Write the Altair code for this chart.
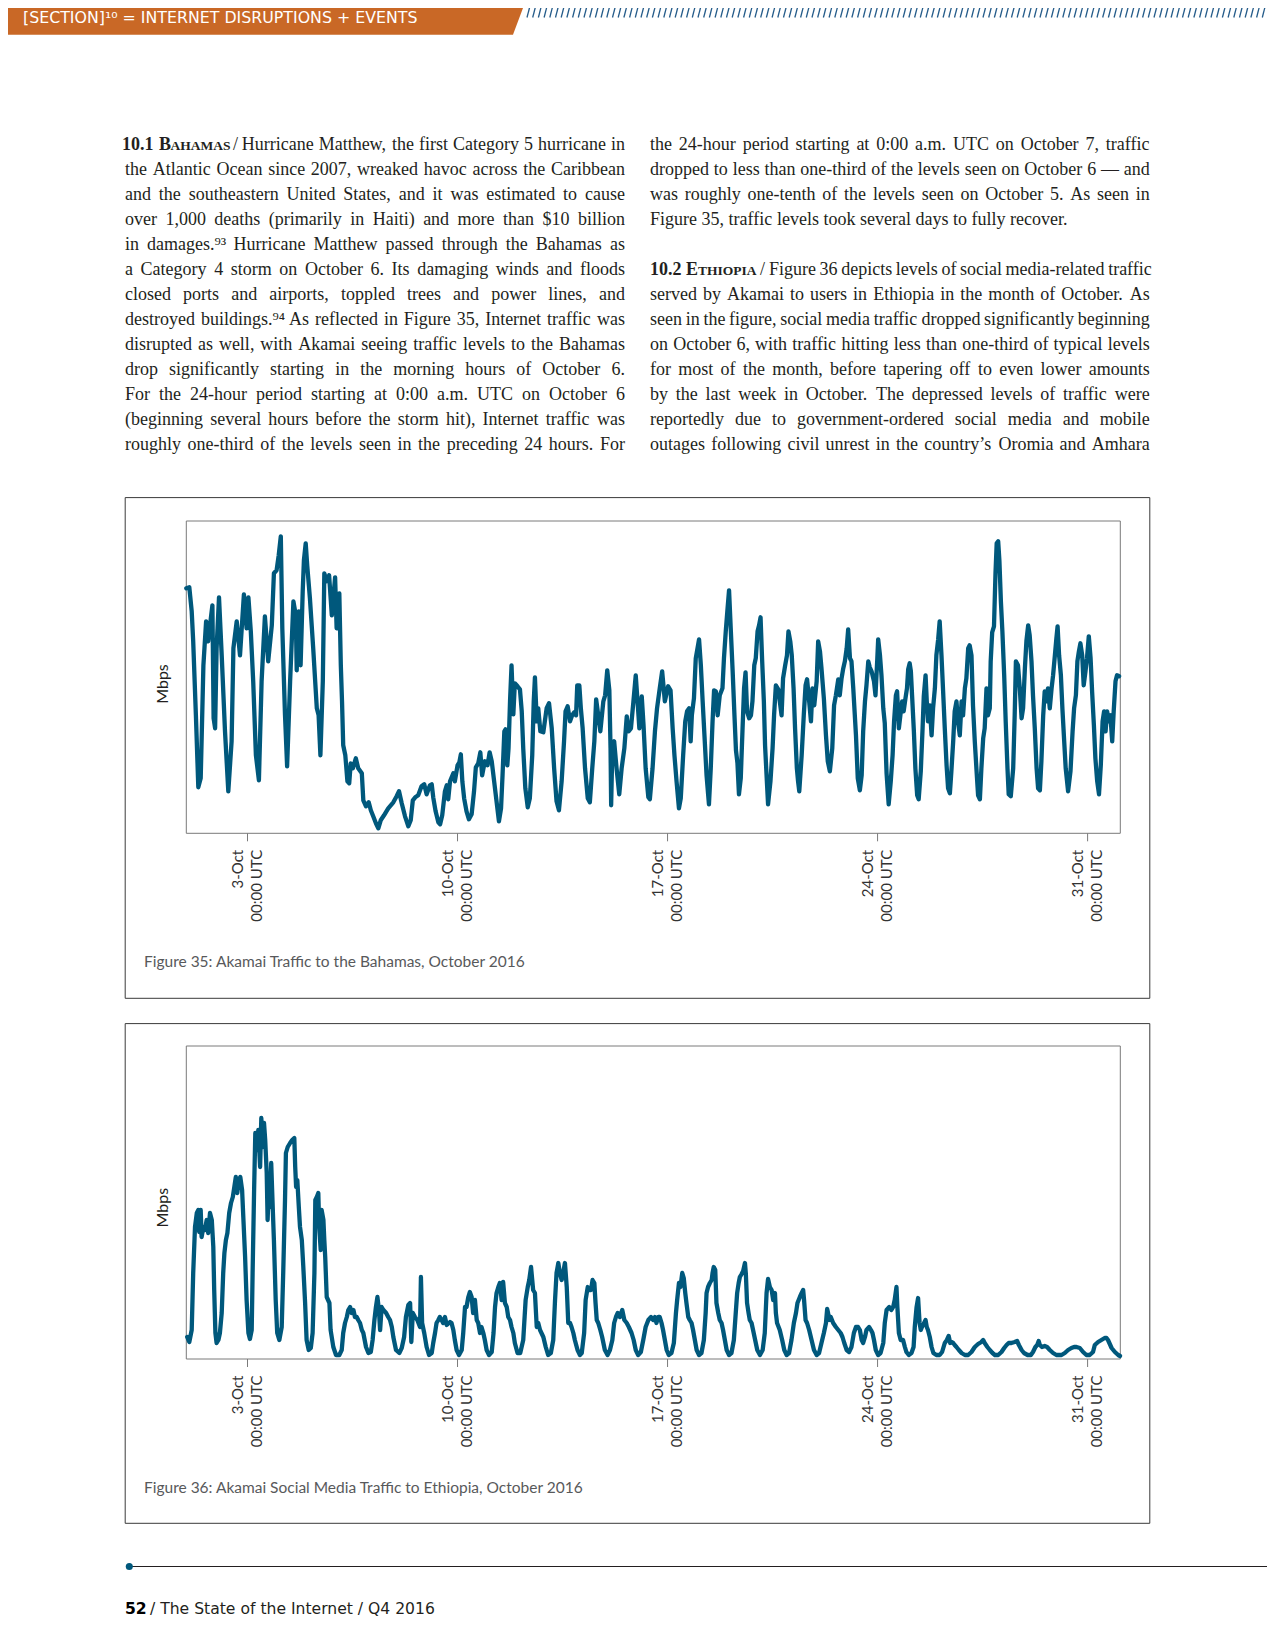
import altair as alt
import pandas as pd

# ---------------- data ----------------
# day of October (fractional), traffic in Mbps (relative units)
bahamas = [
    (0.96,245),(1.06,246),(1.14,222),(1.19,192),(1.28,118),(1.36,46),(1.44,55),(1.53,168),(1.62,212),(1.69,192),
    (1.75,208),(1.83,228),(1.87,115),(1.92,105),(1.97,185),(2.05,236),(2.14,178),(2.25,102),(2.36,42),(2.47,92),
    (2.53,185),(2.64,212),(2.75,178),(2.88,239),(2.97,205),(3.03,236),(3.11,202),(3.19,152),(3.28,78),(3.38,53),
    (3.47,152),(3.58,217),(3.69,172),(3.81,208),(3.88,260),(3.97,263),(4.04,278),(4.11,297),(4.16,205),(4.25,118),
    (4.32,67),(4.42,152),(4.53,232),(4.61,218),(4.64,163),(4.71,222),(4.77,168),(4.84,242),(4.88,273),(4.94,290),
    (4.99,268),(5.08,235),(5.19,185),(5.31,125),(5.37,118),(5.43,78),(5.51,152),(5.56,260),(5.64,252),(5.72,258),
    (5.81,218),(5.92,256),(5.97,205),(6.06,240),(6.11,168),(6.15,132),(6.19,88),(6.26,78),(6.33,52),(6.39,50),
    (6.44,70),(6.51,65),(6.61,75),(6.69,65),(6.81,60),(6.86,33),(6.95,27),(7.04,31),(7.11,23),(7.19,17),
    (7.28,10),(7.36,5),(7.44,13),(7.55,18),(7.69,25),(7.86,31),(7.97,37),(8.05,42),(8.14,30),(8.25,17),
    (8.36,7),(8.44,13),(8.51,33),(8.59,36),(8.69,38),(8.80,47),(8.89,49),(8.97,39),(9.08,48),(9.14,49),
    (9.19,36),(9.27,22),(9.36,11),(9.42,9),(9.49,18),(9.58,42),(9.64,48),(9.69,34),(9.75,52),(9.86,60),
    (9.91,52),(10.00,68),(10.06,71),(10.11,79),(10.16,52),(10.22,35),(10.30,22),(10.38,14),(10.47,19),(10.55,42),
    (10.61,66),(10.69,70),(10.76,81),(10.82,58),(10.91,72),(11.00,68),(11.07,81),(11.14,72),(11.22,52),(11.30,32),
    (11.38,12),(11.45,25),(11.50,58),(11.56,102),(11.60,104),(11.66,68),(11.70,85),(11.75,132),(11.80,168),(11.86,119),
    (11.91,150),(12.00,147),(12.08,144),(12.14,122),(12.19,85),(12.26,45),(12.34,26),(12.41,35),(12.49,78),(12.54,132),
    (12.58,156),(12.64,112),(12.69,125),(12.76,102),(12.86,101),(12.97,125),(13.05,130),(13.14,105),(13.22,65),(13.30,32),
    (13.38,23),(13.47,52),(13.55,92),(13.60,122),(13.67,127),(13.75,112),(13.82,118),(13.89,121),(13.95,118),(13.99,148),
    (14.06,148),(14.11,125),(14.17,105),(14.25,65),(14.34,35),(14.41,31),(14.49,65),(14.56,92),(14.62,134),(14.69,118),
    (14.76,102),(14.86,132),(14.92,138),(14.99,163),(15.06,143),(15.10,85),(15.12,28),(15.16,85),(15.22,92),(15.30,65),
    (15.39,39),(15.47,65),(15.56,85),(15.64,117),(15.70,102),(15.78,105),(15.86,131),(15.94,158),(16.00,132),(16.06,105),
    (16.14,137),(16.20,108),(16.27,65),(16.36,36),(16.41,34),(16.50,65),(16.58,102),(16.65,125),(16.74,145),(16.82,162),
    (16.91,132),(17.02,147),(17.10,143),(17.17,105),(17.23,78),(17.30,52),(17.38,25),(17.44,35),(17.52,78),(17.59,112),
    (17.65,122),(17.72,125),(17.77,92),(17.81,118),(17.88,135),(17.94,175),(18.05,194),(18.11,168),(18.17,132),(18.23,98),
    (18.30,58),(18.38,29),(18.44,65),(18.50,112),(18.55,143),(18.61,142),(18.67,118),(18.74,138),(18.83,145),(18.88,175),
    (18.94,202),(19.00,225),(19.05,243),(19.11,202),(19.17,162),(19.23,118),(19.28,83),(19.33,70),(19.38,39),(19.44,55),
    (19.50,105),(19.55,145),(19.60,161),(19.65,122),(19.72,115),(19.78,118),(19.83,132),(19.89,168),(19.94,175),(20.00,202),
    (20.05,208),(20.10,216),(20.15,175),(20.21,132),(20.25,88),(20.30,58),(20.35,29),(20.43,52),(20.50,85),(20.55,118),
    (20.61,148),(20.69,144),(20.74,132),(20.80,118),(20.85,155),(20.92,168),(20.98,178),(21.03,202),(21.09,192),(21.14,178),
    (21.20,145),(21.25,105),(21.31,65),(21.35,52),(21.39,42),(21.47,78),(21.54,118),(21.60,148),(21.65,154),(21.72,132),
    (21.78,112),(21.83,145),(21.89,128),(21.97,152),(22.02,192),(22.08,182),(22.13,165),(22.21,135),(22.28,98),(22.34,72),
    (22.41,62),(22.49,85),(22.55,128),(22.61,138),(22.69,154),(22.74,138),(22.80,155),(22.85,164),(22.91,172),(22.97,185),
    (23.02,204),(23.08,175),(23.13,172),(23.19,145),(23.28,98),(23.34,55),(23.41,43),(23.47,58),(23.52,102),(23.58,132),
    (23.63,148),(23.69,172),(23.74,166),(23.80,162),(23.88,152),(23.93,138),(23.99,174),(24.02,194),(24.08,178),(24.13,158),
    (24.19,125),(24.24,110),(24.30,60),(24.37,29),(24.44,52),(24.50,78),(24.55,112),(24.61,138),(24.65,142),(24.71,105),
    (24.76,118),(24.82,132),(24.87,122),(24.93,135),(24.98,145),(25.02,164),(25.07,170),(25.11,162),(25.15,138),(25.21,102),
    (25.26,65),(25.32,38),(25.37,34),(25.44,62),(25.50,105),(25.54,137),(25.60,158),(25.64,132),(25.68,112),(25.74,128),
    (25.80,98),(25.85,125),(25.91,145),(25.96,178),(26.02,194),(26.07,212),(26.13,178),(26.18,145),(26.24,105),(26.30,68),
    (26.35,45),(26.41,40),(26.46,62),(26.52,92),(26.57,122),(26.63,132),(26.68,112),(26.74,98),(26.80,132),(26.85,118),
    (26.91,145),(26.96,155),(27.02,185),(27.07,188),(27.13,178),(27.18,128),(27.24,92),(27.30,62),(27.35,38),(27.41,34),
    (27.46,65),(27.52,95),(27.57,105),(27.63,145),(27.68,118),(27.74,125),(27.77,172),(27.82,201),(27.88,207),(27.93,260),
    (27.97,290),(28.02,292),(28.06,273),(28.11,232),(28.16,202),(28.22,158),(28.27,112),(28.33,65),(28.37,39),(28.44,37),
    (28.52,65),(28.57,118),(28.61,172),(28.68,168),(28.74,145),(28.80,115),(28.85,125),(28.91,165),(28.96,192),(29.02,208),
    (29.07,198),(29.13,172),(29.18,138),(29.24,105),(29.30,65),(29.35,45),(29.41,43),(29.46,72),(29.52,118),(29.57,142),
    (29.63,132),(29.68,145),(29.74,125),(29.80,145),(29.85,158),(29.91,178),(29.96,195),(30.00,207),(30.05,178),(30.11,158),
    (30.16,125),(30.22,92),(30.27,65),(30.35,42),(30.43,62),(30.50,102),(30.55,125),(30.61,138),(30.66,172),(30.71,182),
    (30.76,190),(30.82,178),(30.87,148),(30.93,162),(30.98,175),(31.04,197),(31.10,175),(31.15,142),(31.21,108),(31.26,75),
    (31.32,52),(31.38,39),(31.44,68),(31.50,112),(31.55,122),(31.60,102),(31.65,122),(31.71,112),(31.76,118),(31.82,92),
    (31.87,122),(31.93,152),(31.98,158),(32.05,157),
]

ethiopia = [
    (0.99,22),(1.06,17),(1.14,29),(1.19,86),(1.25,132),(1.31,146),(1.36,149),(1.39,127),(1.44,149),(1.47,122),
    (1.53,132),(1.58,129),(1.64,139),(1.69,126),(1.75,146),(1.81,139),(1.86,112),(1.89,69),(1.93,26),(1.97,16),
    (2.03,19),(2.08,26),(2.14,46),(2.19,86),(2.23,106),(2.28,119),(2.33,126),(2.39,146),(2.45,156),(2.51,162),
    (2.56,172),(2.61,182),(2.66,166),(2.71,179),(2.76,182),(2.82,169),(2.86,142),(2.92,102),(2.97,59),(3.03,26),
    (3.08,20),(3.14,29),(3.17,86),(3.22,169),(3.26,226),(3.31,209),(3.36,229),(3.42,192),(3.46,241),(3.51,212),
    (3.55,236),(3.59,219),(3.64,186),(3.67,139),(3.71,172),(3.75,152),(3.79,196),(3.84,152),(3.88,119),(3.94,59),
    (3.99,26),(4.06,19),(4.14,32),(4.19,86),(4.25,159),(4.28,206),(4.34,212),(4.42,216),(4.49,219),(4.56,221),
    (4.59,192),(4.62,172),(4.66,179),(4.71,152),(4.75,132),(4.81,119),(4.86,92),(4.92,56),(4.97,19),(5.04,9),
    (5.11,11),(5.17,26),(5.23,86),(5.26,159),(5.31,162),(5.36,166),(5.39,132),(5.44,109),(5.47,149),(5.53,139),
    (5.56,119),(5.59,102),(5.64,62),(5.73,56),(5.77,29),(5.86,12),(5.95,4),(6.06,4),(6.14,9),(6.19,26),
    (6.25,36),(6.31,42),(6.36,49),(6.42,52),(6.47,46),(6.53,49),(6.58,42),(6.64,42),(6.69,39),(6.75,36),
    (6.81,29),(6.86,26),(6.95,12),(7.03,6),(7.11,7),(7.17,19),(7.23,39),(7.28,52),(7.33,62),(7.38,49),
    (7.42,29),(7.47,52),(7.53,49),(7.62,46),(7.69,42),(7.75,39),(7.81,32),(7.86,22),(7.95,9),(8.06,6),
    (8.14,11),(8.22,22),(8.28,42),(8.36,54),(8.42,56),(8.46,17),(8.51,46),(8.58,42),(8.66,39),(8.75,32),
    (8.78,82),(8.82,36),(8.89,26),(8.97,12),(9.05,4),(9.14,6),(9.19,16),(9.25,26),(9.30,36),(9.36,39),
    (9.41,42),(9.47,39),(9.52,36),(9.58,42),(9.64,34),(9.75,37),(9.80,36),(9.86,29),(9.91,19),(9.97,9),
    (10.05,4),(10.14,9),(10.19,26),(10.25,52),(10.30,52),(10.36,62),(10.41,67),(10.47,62),(10.52,46),(10.58,59),
    (10.64,39),(10.69,36),(10.75,26),(10.80,32),(10.86,26),(10.91,19),(10.97,9),(11.05,4),(11.14,7),(11.20,26),
    (11.25,52),(11.30,66),(11.36,72),(11.41,76),(11.47,59),(11.52,77),(11.58,56),(11.64,52),(11.69,42),(11.75,39),
    (11.80,32),(11.86,26),(11.91,16),(12.00,6),(12.09,6),(12.19,19),(12.27,59),(12.34,72),(12.39,79),(12.45,92),
    (12.49,79),(12.52,69),(12.58,66),(12.64,32),(12.69,36),(12.75,29),(12.86,22),(12.94,12),(13.02,4),(13.11,6),
    (13.19,19),(13.25,59),(13.30,86),(13.36,96),(13.41,86),(13.47,79),(13.52,86),(13.58,96),(13.64,72),(13.69,36),
    (13.75,36),(13.80,32),(13.86,26),(13.91,19),(14.00,9),(14.08,4),(14.14,6),(14.22,26),(14.27,59),(14.34,72),
    (14.39,69),(14.45,69),(14.50,79),(14.56,76),(14.60,56),(14.64,39),(14.69,36),(14.76,29),(14.82,22),(14.91,9),
    (15.00,4),(15.08,9),(15.16,19),(15.22,36),(15.28,42),(15.34,46),(15.41,42),(15.49,49),(15.56,39),(15.64,36),
    (15.71,32),(15.80,26),(15.87,19),(15.94,9),(16.02,4),(16.11,7),(16.19,19),(16.27,32),(16.36,39),(16.45,42),
    (16.52,39),(16.58,42),(16.63,36),(16.69,42),(16.74,42),(16.80,36),(16.85,29),(16.91,19),(16.97,9),(17.04,4),
    (17.13,6),(17.21,16),(17.28,46),(17.32,59),(17.38,76),(17.43,72),(17.49,86),(17.54,81),(17.59,66),(17.63,56),
    (17.69,42),(17.74,39),(17.80,36),(17.85,29),(17.91,19),(17.97,9),(18.05,4),(18.13,6),(18.21,19),(18.27,46),
    (18.30,66),(18.35,72),(18.41,76),(18.47,79),(18.50,86),(18.54,92),(18.59,89),(18.63,56),(18.69,46),(18.74,39),
    (18.80,36),(18.85,29),(18.91,19),(18.97,9),(19.05,4),(19.13,6),(19.21,19),(19.28,49),(19.32,66),(19.37,76),
    (19.41,82),(19.47,85),(19.52,88),(19.58,96),(19.61,85),(19.65,56),(19.70,46),(19.74,39),(19.80,36),(19.85,29),
    (19.92,19),(19.99,9),(20.08,4),(20.17,9),(20.24,26),(20.30,66),(20.35,80),(20.41,72),(20.47,69),(20.52,59),
    (20.58,66),(20.61,46),(20.65,36),(20.74,29),(20.82,19),(20.89,9),(20.97,4),(21.05,6),(21.13,19),(21.21,36),
    (21.28,46),(21.33,56),(21.41,62),(21.47,66),(21.52,69),(21.55,59),(21.60,39),(21.65,36),(21.72,29),(21.80,19),
    (21.88,9),(21.97,4),(22.05,6),(22.13,16),(22.21,26),(22.28,36),(22.32,50),(22.35,46),(22.39,39),(22.44,42),
    (22.52,36),(22.61,32),(22.69,29),(22.77,26),(22.83,22),(22.89,16),(22.97,9),(23.05,7),(23.13,12),(23.21,26),
    (23.28,32),(23.35,32),(23.41,29),(23.47,19),(23.52,16),(23.58,22),(23.63,29),(23.72,32),(23.78,29),(23.83,26),
    (23.88,19),(23.94,9),(24.02,4),(24.10,6),(24.19,16),(24.24,36),(24.30,49),(24.39,52),(24.46,49),(24.52,52),
    (24.57,59),(24.63,72),(24.66,52),(24.71,26),(24.77,19),(24.85,19),(24.91,12),(24.96,7),(25.04,4),(25.13,6),
    (25.20,12),(25.24,32),(25.30,52),(25.35,61),(25.40,36),(25.44,29),(25.48,32),(25.55,36),(25.60,39),(25.64,32),
    (25.68,29),(25.74,22),(25.80,12),(25.86,6),(25.96,4),(26.07,4),(26.15,7),(26.24,16),(26.31,19),(26.37,23),
    (26.42,16),(26.46,17),(26.52,16),(26.57,14),(26.63,12),(26.71,9),(26.80,6),(26.91,4),(27.02,4),(27.13,7),
    (27.24,12),(27.35,15),(27.46,17),(27.52,19),(27.57,16),(27.66,12),(27.74,9),(27.83,6),(27.91,4),(28.02,4),
    (28.13,7),(28.22,11),(28.30,14),(28.37,16),(28.46,16),(28.57,17),(28.65,18),(28.71,14),(28.80,9),(28.88,6),
    (29.00,4),(29.11,4),(29.18,7),(29.26,12),(29.32,14),(29.37,18),(29.41,14),(29.48,12),(29.57,13),(29.65,12),
    (29.74,9),(29.85,6),(29.96,4),(30.13,4),(30.24,6),(30.35,9),(30.46,11),(30.55,12),(30.63,12),(30.74,11),
    (30.85,7),(30.96,4),(31.07,4),(31.18,7),(31.24,14),(31.35,17),(31.46,19),(31.57,21),(31.63,21),(31.68,19),
    (31.74,15),(31.80,11),(31.91,7),(32.02,4),(32.08,3),
]

tick_days = [3, 10, 17, 24, 31]
tick_dates = ["3-Oct", "10-Oct", "17-Oct", "24-Oct", "31-Oct"]
tick_time = "00:00 UTC"

captions = [
    "Figure 35: Akamai Traffic to the Bahamas, October 2016",
    "Figure 36: Akamai Social Media Traffic to Ethiopia, October 2016",
]

header_text = "[SECTION]\u00b9\u2070 = INTERNET DISRUPTIONS + EVENTS"
footer_page = "52"
footer_rest = "/ The State of the Internet / Q4 2016"

left_lines = [
    "Hurricane Matthew, the first Category 5 hurricane in",
    "the Atlantic Ocean since 2007, wreaked havoc across the Caribbean",
    "and the southeastern United States, and it was estimated to cause",
    "over 1,000 deaths (primarily in Haiti) and more than $10 billion",
    "in damages.\u2079\u00b3 Hurricane Matthew passed through the Bahamas as",
    "a Category 4 storm on October 6. Its damaging winds and floods",
    "closed ports and airports, toppled trees and power lines, and",
    "destroyed buildings.\u2079\u2074 As reflected in Figure 35, Internet traffic was",
    "disrupted as well, with Akamai seeing traffic levels to the Bahamas",
    "drop significantly starting in the morning hours of October 6.",
    "For the 24-hour period starting at 0:00 a.m. UTC on October 6",
    "(beginning several hours before the storm hit), Internet traffic was",
    "roughly one-third of the levels seen in the preceding 24 hours. For",
]
right_lines = [
    "the 24-hour period starting at 0:00 a.m. UTC on October 7, traffic",
    "dropped to less than one-third of the levels seen on October 6 \u2014 and",
    "was roughly one-tenth of the levels seen on October 5. As seen in",
    "Figure 35, traffic levels took several days to fully recover.",
    "",
    "Figure 36 depicts levels of social media-related traffic",
    "served by Akamai to users in Ethiopia in the month of October. As",
    "seen in the figure, social media traffic dropped significantly beginning",
    "on October 6, with traffic hitting less than one-third of typical levels",
    "for most of the month, before tapering off to even lower amounts",
    "by the last week in October. The depressed levels of traffic were",
    "reportedly due to government-ordered social media and mobile",
    "outages following civil unrest in the country\u2019s Oromia and Amhara",
]
right_ragged_rows = [3]   # end of paragraph: not justified

# ---------------- layout / style ----------------
W, H = 1259, 1634
LINE_COLOR = "#00587C"
TEXT_COLOR = "#231F20"
SANS = "Lato"
WIDE_SANS = "DejaVu Sans"
SERIF = "Liberation Serif"
BODY_SIZE = 18
X_DOMAIN = [0.96, 32.09]
X_RANGE = [178.3, 1112.3]
BODY_Y0, BODY_LH = 142, 25
LEFT_X, LEFT_END = 117, 616.9
RIGHT_X, RIGHT_END = 642, 1141.8
MIN_GAP = 3.6

# Times / Liberation Serif advance widths (1/1000 em), used only to justify lines
_W = {" ": 250, "!": 333, "(": 333, ")": 333, ",": 250, "-": 333, ".": 250, "/": 278, ":": 278,
      "$": 500, "'": 333, "\u2019": 333, "\u2014": 1000, "\u00b3": 300, "\u2079": 300, "\u2074": 300}
_W.update({c: 500 for c in "0123456789"})
_W.update(dict(zip("ABCDEFGHIJKLMNOPQRSTUVWXYZ",
                   [722, 667, 667, 722, 611, 556, 722, 722, 333, 389, 722, 611, 889, 722, 722, 556,
                    722, 667, 556, 611, 722, 722, 944, 722, 722, 611])))
_W.update(dict(zip("abcdefghijklmnopqrstuvwxyz",
                   [444, 500, 444, 500, 444, 333, 500, 500, 278, 278, 500, 278, 778, 500, 500, 500,
                    500, 333, 389, 278, 500, 500, 722, 500, 500, 444])))


def text_width(s, size):
    return sum(_W.get(c, 500) for c in s) * size / 1000.0


def place_words(line, x0, x1, y, justify):
    words = line.split(" ")
    widths = [text_width(w, BODY_SIZE) for w in words]
    gap = text_width(" ", BODY_SIZE)
    if justify and len(words) > 1:
        gap = max(MIN_GAP, (x1 - x0 - sum(widths)) / (len(words) - 1))
    out, x = [], x0
    for w, wd in zip(words, widths):
        out.append({"x": x, "y": y, "text": w})
        x += wd + gap
    return out


def pix(field):
    return alt.X(field, scale=None, axis=None)


def piy(field):
    return alt.Y(field, scale=None, axis=None)


def text_layer(rows, **mark):
    return alt.Chart(pd.DataFrame(rows)).mark_text(**mark).encode(
        x=pix("x:Q"), y=piy("y:Q"), text="text:N"
    )


# header band (trapezoid) and hatching
header_df = pd.DataFrame({"x": [-8, 505, 518], "yt": [-8, -8, -8], "yb": [26.7, 26.7, -8]})
header_band = alt.Chart(header_df).mark_area(color="#C96826", orient="vertical").encode(
    x=pix("x:Q"), y=piy("yt:Q"), y2="yb:Q"
)
hatch = alt.Chart(alt.sequence(0, 132, as_="i")).transform_calculate(
    x="519 + datum.i * 5.7", x2="523.5 + datum.i * 5.7"
).mark_rule(color="#255C8A", strokeWidth=1.3).encode(
    x=pix("x:Q"), x2="x2:Q", y=alt.value(9.5), y2=alt.value(-8)
)
header_label = text_layer(
    [{"x": 15, "y": 10, "text": header_text}],
    font=WIDE_SANS, fontSize=15.8, color="white", align="left", baseline="middle",
)

# body text (justified word by word)
body_rows = []
for i, t in enumerate(left_lines):
    body_rows += place_words(t, LEFT_X if i else 233.7, LEFT_END, BODY_Y0 + i * BODY_LH, True)
for i, t in enumerate(right_lines):
    if t:
        body_rows += place_words(t, RIGHT_X if i != 5 else 761, RIGHT_END, BODY_Y0 + i * BODY_LH,
                                 i not in right_ragged_rows)
body_rows.append({"x": 225, "y": BODY_Y0, "text": "/"})
body_rows.append({"x": 752, "y": BODY_Y0 + 5 * BODY_LH, "text": "/"})
body = text_layer(body_rows, font=SERIF, fontSize=BODY_SIZE, color=TEXT_COLOR, align="left",
                  baseline="alphabetic")

heads_df = pd.DataFrame([
    {"x": 114, "y": BODY_Y0, "text": "10.1", "s": 18},
    {"x": 151, "y": BODY_Y0, "text": "B", "s": 18},
    {"x": 162.5, "y": BODY_Y0, "text": "AHAMAS", "s": 13.5},
    {"x": 642, "y": BODY_Y0 + 5 * BODY_LH, "text": "10.2", "s": 18},
    {"x": 678, "y": BODY_Y0 + 5 * BODY_LH, "text": "E", "s": 18},
    {"x": 690, "y": BODY_Y0 + 5 * BODY_LH, "text": "THIOPIA", "s": 13.5},
])
heads = alt.Chart(heads_df).mark_text(
    font=SERIF, fontWeight="bold", color=TEXT_COLOR, align="left", baseline="alphabetic"
).encode(x=pix("x:Q"), y=piy("y:Q"), text="text:N", size=alt.Size("s:Q", scale=None, legend=None))

# figure boxes and plot frames
frames_df = pd.DataFrame([
    {"x": 117.2, "x2": 1141.8, "y": 489.6, "y2": 990.3, "c": "#3A3A3A"},
    {"x": 178.3, "x2": 1112.3, "y": 513, "y2": 825.3, "c": "#7A7A7A"},
    {"x": 117.2, "x2": 1141.8, "y": 1015.6, "y2": 1515.3, "c": "#3A3A3A"},
    {"x": 178.3, "x2": 1112.3, "y": 1038, "y2": 1351, "c": "#7A7A7A"},
])
frames = alt.Chart(frames_df).mark_rect(fillOpacity=0, strokeWidth=1).encode(
    x=pix("x:Q"), x2="x2:Q", y=piy("y:Q"), y2="y2:Q", stroke=alt.Stroke("c:N", scale=None, legend=None)
)

caption_layer = text_layer(
    [{"x": 136, "y": 954.4, "text": captions[0]}, {"x": 136, "y": 1480.4, "text": captions[1]}],
    font=SANS, fontSize=15.5, color="#58595B", align="left", baseline="middle",
)
mbps_layer = text_layer(
    [{"x": 155, "y": 676, "text": "Mbps"}, {"x": 155, "y": 1199.6, "text": "Mbps"}],
    font=SANS, fontSize=16, color="#231F20", align="center", baseline="middle", angle=270,
)

# footer
footer_rule = alt.Chart(pd.DataFrame({"a": [0]})).mark_rule(color=TEXT_COLOR, strokeWidth=1.2).encode(
    x=alt.value(121), x2=alt.value(1267), y=alt.value(1558.5)
)
footer_dot = alt.Chart(pd.DataFrame({"a": [0]})).mark_point(
    filled=True, color=LINE_COLOR, size=50, opacity=1
).encode(x=alt.value(121.3), y=alt.value(1558.5))
footer_num = text_layer([{"x": 117, "y": 1606, "text": footer_page}],
                        font=WIDE_SANS, fontSize=15.6, fontWeight="bold", color="#000000",
                        align="left", baseline="alphabetic")
footer_txt = text_layer([{"x": 142, "y": 1606, "text": footer_rest}],
                        font=WIDE_SANS, fontSize=15.6, color=TEXT_COLOR, align="left",
                        baseline="alphabetic")


def figure(series, y_top, y_bot, y_max):
    df = pd.DataFrame(series, columns=["day", "mbps"])
    xs = alt.Scale(domain=X_DOMAIN, range=X_RANGE, nice=False, zero=False)
    ys = alt.Scale(domain=[0, y_max], range=[y_bot, y_top], nice=False, zero=False)
    line = alt.Chart(df).mark_line(
        color=LINE_COLOR, strokeWidth=4.3, strokeJoin="round", strokeCap="round"
    ).encode(x=alt.X("day:Q", scale=xs, axis=None), y=alt.Y("mbps:Q", scale=ys, axis=None))
    tdf = pd.DataFrame({"day": tick_days, "label": [d + "\n" + tick_time for d in tick_dates]})
    ticks = alt.Chart(tdf).mark_rule(color="#7A7A7A", strokeWidth=1).encode(
        x=alt.X("day:Q", scale=xs, axis=None), y=alt.value(y_bot), y2=alt.value(y_bot + 8)
    )
    labels = alt.Chart(tdf).mark_text(
        angle=270, align="right", baseline="middle", lineBreak="\n", lineHeight=19, dy=-9.5,
        font=SANS, fontSize=15, color="#333333"
    ).encode(x=alt.X("day:Q", scale=xs, axis=None), y=alt.value(y_bot + 16.5), text="label:N")
    return alt.layer(ticks, line, labels)


fig35 = figure(bahamas, 513, 825.3, 312.3)
fig36 = figure(ethiopia, 1038, 1351, 313)

chart = alt.layer(
    header_band, hatch, header_label, body, heads, frames, caption_layer, mbps_layer,
    footer_rule, footer_dot, footer_num, footer_txt, fig35, fig36,
).resolve_scale(x="independent", y="independent").properties(
    width=W, height=H, padding=0, autosize=alt.AutoSizeParams(type="none"), background="white"
).configure_view(stroke=None)

chart.save("out.html", embed_options={"renderer": "svg", "actions": False})
